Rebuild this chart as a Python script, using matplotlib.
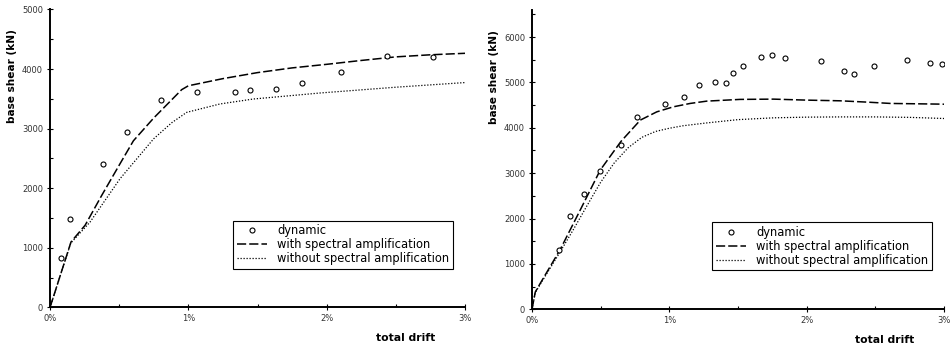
import matplotlib
matplotlib.use("Agg")
import matplotlib.pyplot as plt
from matplotlib.ticker import MultipleLocator, FuncFormatter

# ---------------- data: left panel ----------------
L_dyn_x = [0.080, 0.145, 0.386, 0.557, 0.800, 1.060, 1.337, 1.443, 1.636, 1.819, 2.106, 2.436, 2.766]
L_dyn_y = [836, 1477, 2402, 2949, 3484, 3618, 3618, 3657, 3673, 3763, 3947, 4225, 4203]

L_with_x = [0, 0.152, 0.254, 0.374, 0.506, 0.603, 0.75, 0.952, 1.0, 1.25, 1.5, 1.75, 2.0, 2.25, 2.5, 2.75, 3.0]
L_with_y = [0, 1100, 1380, 1881, 2411, 2797, 3180, 3655, 3720, 3840, 3941, 4020, 4080, 4145, 4205, 4240, 4265]

L_wo_x = [0, 0.15, 0.29, 0.423, 0.506, 0.749, 0.88, 0.988, 1.229, 1.47, 1.952, 2.5, 3.0]
L_wo_y = [0, 1080, 1435, 1881, 2160, 2830, 3100, 3274, 3415, 3498, 3599, 3696, 3774]

# ---------------- data: right panel ----------------
R_dyn_x = [0.199, 0.279, 0.381, 0.497, 0.648, 0.764, 0.970, 1.108, 1.218, 1.334, 1.412, 1.463,
           1.538, 1.669, 1.749, 1.841, 2.105, 2.273, 2.346, 2.489, 2.729, 2.896, 2.988]
R_dyn_y = [1306, 2054, 2531, 3052, 3617, 4241, 4534, 4681, 4952, 5011, 4996, 5202,
           5356, 5561, 5613, 5547, 5473, 5246, 5187, 5363, 5495, 5437, 5414]

R_with_x = [0, 0.024, 0.06, 0.206, 0.35, 0.497, 0.648, 0.789, 0.909, 1.03, 1.152, 1.273, 1.515,
            1.758, 2.0, 2.244, 2.44, 2.61, 2.97, 3.0]
R_with_y = [0, 380, 570, 1320, 2180, 3068, 3700, 4170, 4352, 4463, 4537, 4588, 4626,
            4632, 4610, 4595, 4566, 4537, 4522, 4520]

R_wo_x = [0, 0.024, 0.06, 0.206, 0.3, 0.4, 0.5, 0.6, 0.7, 0.8, 0.9, 1.0, 1.1, 1.274, 1.5,
          1.76, 2.0, 2.25, 2.5, 2.75, 3.0]
R_wo_y = [0, 370, 550, 1270, 1750, 2280, 2800, 3230, 3560, 3790, 3920, 3990, 4045, 4108, 4180,
          4220, 4235, 4240, 4240, 4230, 4205]

x_ticks = [0, 1, 2, 3]
legend_labels = ["dynamic", "with spectral amplification", "without spectral amplification"]

fig = plt.figure(figsize=(9.52, 3.45), dpi=100)
plt.rcParams['font.family'] = ['DejaVu Sans']

tick_col = '#333333'


def draw(ax, dx, dy, wx, wy, ox, oy, ymax, ymajor):
    ax.plot(dx, dy, linestyle='none', marker='o', markersize=3.6,
            markerfacecolor='white', markeredgecolor='black', markeredgewidth=0.8,
            label=legend_labels[0], zorder=3)
    l1, = ax.plot(wx, wy, color='black', lw=1.1, label=legend_labels[1])
    l1.set_dashes((6, 2))
    l2, = ax.plot(ox, oy, color='black', lw=0.9, label=legend_labels[2])
    l2.set_dashes((1, 1.4))
    ax.set_xlim(0, 3)
    ax.set_ylim(0, ymax)
    ax.set_xticks(x_ticks)
    ax.xaxis.set_major_formatter(FuncFormatter(lambda v, p: f"{int(round(v))}%"))
    ax.xaxis.set_minor_locator(MultipleLocator(0.5))
    ax.yaxis.set_major_locator(MultipleLocator(ymajor))
    ax.yaxis.set_minor_locator(MultipleLocator(ymajor / 2))
    for s in ['top', 'right']:
        ax.spines[s].set_visible(False)
    for s in ['left', 'bottom']:
        ax.spines[s].set_linewidth(1.4)
    ax.tick_params(which='major', direction='inout', length=4, width=0.8,
                   labelsize=6, labelcolor=tick_col, pad=3)
    ax.tick_params(which='minor', direction='in', length=2.5, width=0.8)
    ax.text(-0.091, 0.776, "base shear (kN)", transform=ax.transAxes, rotation=90,
            ha='center', va='center', fontsize=7.6, fontweight='bold')
    ax.text(0.856, -0.102, "total drift", transform=ax.transAxes,
            ha='center', va='center', fontsize=7.8, fontweight='bold')
    leg = ax.legend(loc='lower right', bbox_to_anchor=(0.97, 0.13), fontsize=8.3,
                    frameon=True, fancybox=False, edgecolor='black', framealpha=1,
                    handlelength=2.6, handletextpad=0.9, borderpad=0.3, labelspacing=0.1,
                    borderaxespad=0)
    leg.get_frame().set_linewidth(0.8)


axL = fig.add_axes([0.0525, 0.1087, 0.436, 0.8638])
draw(axL, L_dyn_x, L_dyn_y, L_with_x, L_with_y, L_wo_x, L_wo_y, 5000, 1000)

axR = fig.add_axes([0.5588, 0.1035, 0.4328, 0.868])
draw(axR, R_dyn_x, R_dyn_y, R_with_x, R_with_y, R_wo_x, R_wo_y, 6600, 1000)

fig.savefig("out.png", dpi=100)
